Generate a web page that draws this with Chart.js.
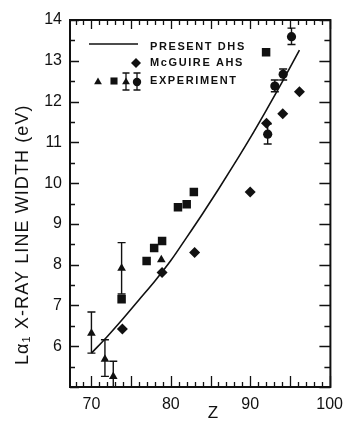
<!DOCTYPE html>
<html>
<head>
<meta charset="utf-8">
<script src="https://cdn.jsdelivr.net/npm/chart.js@4.4.1/dist/chart.umd.min.js"></script>
<style>
  html, body { margin: 0; padding: 0; background: #fff; }
  #wrap { width: 351px; height: 423px; position: relative; }
</style>
</head>
<body>
<div id="wrap"><canvas id="myChart"></canvas></div>
<script>
// present DHS calculation (solid line)
const lineZ = [70, 72, 74, 76, 78, 80, 82, 84, 86, 88, 90, 92, 94, 96.2];
const lineW = [5.83, 6.24, 6.68, 7.14, 7.6, 8.1, 8.67, 9.25, 9.85, 10.47, 11.11, 11.78, 12.47, 13.26];

// McGuire AHS (diamonds)
const mcgZ = [73.9, 78.9, 83.0, 90.0, 92.05, 94.1, 96.2];
const mcgW = [6.42, 7.81, 8.3, 9.78, 11.47, 11.7, 12.24];

// experiment: triangles
const triZ = [70, 71.7, 72.75, 73.8, 78.8];
const triW = [6.32, 5.68, 5.26, 7.91, 8.12];
const triLo = [5.83, 5.26, 4.9, 7.28, null];
const triHi = [6.84, 6.16, 5.63, 8.54, null];

// experiment: squares
const sqZ = [73.8, 76.95, 77.9, 78.9, 80.9, 82.0, 82.9, 92.0];
const sqW = [7.15, 8.09, 8.41, 8.58, 9.41, 9.48, 9.78, 13.21];

// experiment: circles
const cirZ = [92.2, 93.1, 94.15, 95.2];
const cirW = [11.2, 12.38, 12.67, 13.59];
const cirLo = [10.96, 12.24, 12.53, 13.4];
const cirHi = [11.45, 12.53, 12.8, 13.8];

const xTicks = [70, 80, 90, 100];
const yTicks = [5, 6, 7, 8, 9, 10, 11, 12, 13, 14];

const ink = "#111";
const font = "'Liberation Sans', Arial, sans-serif";

function pts(xs, ys) {
  return xs.map(function (x, i) { return { x: x, y: ys[i] }; });
}

// inward ticks on all four sides + frame
const frameTicks = {
  id: "frameTicks",
  afterDraw: function (chart) {
    const ctx = chart.ctx;
    const a = chart.chartArea;
    const xs = chart.scales.x, ys = chart.scales.y;
    ctx.save();
    ctx.strokeStyle = ink;
    ctx.lineWidth = 2;
    ctx.strokeRect(a.left, a.top, a.right - a.left, a.bottom - a.top);
    ctx.lineWidth = 1.3;
    ctx.beginPath();
    for (let z = 68; z <= 100; z++) {
      const px = Math.round(xs.getPixelForValue(z)) + 0.5;
      const lb = z % 5 === 0 ? 11 : 5;
      const lt = z % 5 === 0 ? 9 : 5;
      ctx.moveTo(px, a.bottom); ctx.lineTo(px, a.bottom - lb);
      ctx.moveTo(px, a.top); ctx.lineTo(px, a.top + lt);
    }
    for (let v = 5; v <= 14; v += 0.5) {
      const py = Math.round(ys.getPixelForValue(v)) + 0.5;
      const major = Math.abs(v - Math.round(v)) < 0.01;
      const ll = major ? 9 : 5;
      const lr = major ? 11 : 6;
      ctx.moveTo(a.left, py); ctx.lineTo(a.left + ll, py);
      ctx.moveTo(a.right, py); ctx.lineTo(a.right - lr, py);
    }
    ctx.stroke();
    ctx.restore();
  }
};

// vertical error bars with caps
function drawBar(ctx, xs, ys, z, lo, hi, area) {
  const px = xs.getPixelForValue(z);
  const p1 = Math.min(ys.getPixelForValue(lo), area.bottom);
  const p2 = Math.max(ys.getPixelForValue(hi), area.top);
  ctx.beginPath();
  ctx.moveTo(px, p1); ctx.lineTo(px, p2);
  if (p1 < area.bottom) { ctx.moveTo(px - 4, p1); ctx.lineTo(px + 4, p1); }
  if (p2 > area.top) { ctx.moveTo(px - 4, p2); ctx.lineTo(px + 4, p2); }
  ctx.stroke();
}

const errorBars = {
  id: "errorBars",
  afterDatasetsDraw: function (chart) {
    const ctx = chart.ctx;
    const xs = chart.scales.x, ys = chart.scales.y;
    const a = chart.chartArea;
    ctx.save();
    ctx.strokeStyle = ink;
    ctx.lineWidth = 1.4;
    triZ.forEach(function (z, i) {
      if (triLo[i] !== null) drawBar(ctx, xs, ys, z, triLo[i], triHi[i], a);
    });
    cirZ.forEach(function (z, i) {
      drawBar(ctx, xs, ys, z, cirLo[i], cirHi[i], a);
    });
    ctx.restore();
  }
};

// legend and axis titles
const labels = {
  id: "labels",
  afterDraw: function (chart) {
    const ctx = chart.ctx;
    const a = chart.chartArea;
    const dp = Chart.helpers.drawPoint;
    ctx.save();
    ctx.fillStyle = ink;
    ctx.strokeStyle = ink;

    // legend
    const lx = a.left;
    ctx.lineWidth = 1.6;
    ctx.beginPath();
    ctx.moveTo(lx + 19, a.top + 24); ctx.lineTo(lx + 68, a.top + 24);
    ctx.stroke();
    dp(ctx, { pointStyle: "rectRot", radius: 5, borderWidth: 0 }, lx + 66, a.top + 43);
    dp(ctx, { pointStyle: "triangle", radius: 4.5, borderWidth: 0 }, lx + 28, a.top + 62);
    dp(ctx, { pointStyle: "rect", radius: 5, borderWidth: 0 }, lx + 44, a.top + 61);
    dp(ctx, { pointStyle: "triangle", radius: 4.5, borderWidth: 0 }, lx + 56, a.top + 62);
    dp(ctx, { pointStyle: "circle", radius: 4.2, borderWidth: 0 }, lx + 67, a.top + 62);
    ctx.lineWidth = 1.3;
    [lx + 56, lx + 67].forEach(function (cx) {
      ctx.beginPath();
      ctx.moveTo(cx, a.top + 53); ctx.lineTo(cx, a.top + 70);
      ctx.moveTo(cx - 3.5, a.top + 53); ctx.lineTo(cx + 3.5, a.top + 53);
      ctx.moveTo(cx - 3.5, a.top + 70); ctx.lineTo(cx + 3.5, a.top + 70);
      ctx.stroke();
    });

    ctx.font = "bold 11px " + font;
    ctx.letterSpacing = "1.6px";
    ctx.textBaseline = "middle";
    ctx.textAlign = "left";
    ctx.fillText("PRESENT DHS", lx + 80, a.top + 27);
    ctx.fillText("McGUIRE AHS", lx + 80, a.top + 43);
    ctx.fillText("EXPERIMENT", lx + 80, a.top + 61);

    // x title
    ctx.font = "17px " + font;
    ctx.letterSpacing = "0px";
    ctx.textAlign = "center";
    ctx.fillText("Z", 213, 413);

    // y title, drawn upward from its bottom end
    ctx.translate(23, 365);
    ctx.rotate(-Math.PI / 2);
    ctx.font = "18px " + font;
    ctx.letterSpacing = "1.1px";
    ctx.textAlign = "left";
    ctx.fillText("Lα\u2081 X-RAY LINE WIDTH (eV)", 0, 0);
    ctx.restore();
  }
};

const ctx = document.getElementById("myChart").getContext("2d");
const myChart = new Chart(ctx, {
  type: "scatter",
  data: {
    datasets: [
      {
        label: "PRESENT DHS",
        type: "line",
        data: pts(lineZ, lineW),
        borderColor: ink,
        borderWidth: 1.6,
        pointRadius: 0,
        cubicInterpolationMode: "monotone",
        fill: false,
      },
      {
        label: "McGUIRE AHS",
        data: pts(mcgZ, mcgW),
        pointStyle: "rectRot",
        pointRadius: 5.5,
        backgroundColor: ink,
        borderWidth: 0,
      },
      {
        label: "EXPERIMENT triangles",
        data: pts(triZ, triW),
        pointStyle: "triangle",
        pointRadius: 5,
        backgroundColor: ink,
        borderWidth: 0,
      },
      {
        label: "EXPERIMENT squares",
        data: pts(sqZ, sqW),
        pointStyle: "rect",
        pointRadius: 6,
        backgroundColor: ink,
        borderWidth: 0,
      },
      {
        label: "EXPERIMENT circles",
        data: pts(cirZ, cirW),
        pointStyle: "circle",
        pointRadius: 4.6,
        backgroundColor: ink,
        borderWidth: 0,
      },
    ],
  },
  options: {
    responsive: true,
    maintainAspectRatio: false,
    animation: false,
    layout: { padding: { top: 20, right: 15, left: 0, bottom: 0 } },
    plugins: {
      legend: { display: false },
      tooltip: { enabled: false },
    },
    scales: {
      x: {
        type: "linear",
        min: 67.3,
        max: 100.1,
        afterBuildTicks: function (scale) {
          scale.ticks = xTicks.map(function (v) { return { value: v }; });
        },
        afterFit: function (scale) { scale.height = 36; },
        grid: { display: false, drawTicks: false },
        border: { display: false },
        ticks: {
          color: ink,
          padding: 8,
          maxRotation: 0,
          font: { family: font, size: 16 },
        },
      },
      y: {
        type: "linear",
        min: 5,
        max: 14,
        afterBuildTicks: function (scale) {
          scale.ticks = yTicks.map(function (v) { return { value: v }; });
        },
        afterFit: function (scale) { scale.width = 70; },
        grid: { display: false, drawTicks: false },
        border: { display: false },
        ticks: {
          color: ink,
          padding: 8,
          font: { family: font, size: 16 },
          callback: function (v) { return v === 5 ? "" : v; },
        },
      },
    },
  },
  plugins: [frameTicks, errorBars, labels],
});
</script>
</body>
</html>
